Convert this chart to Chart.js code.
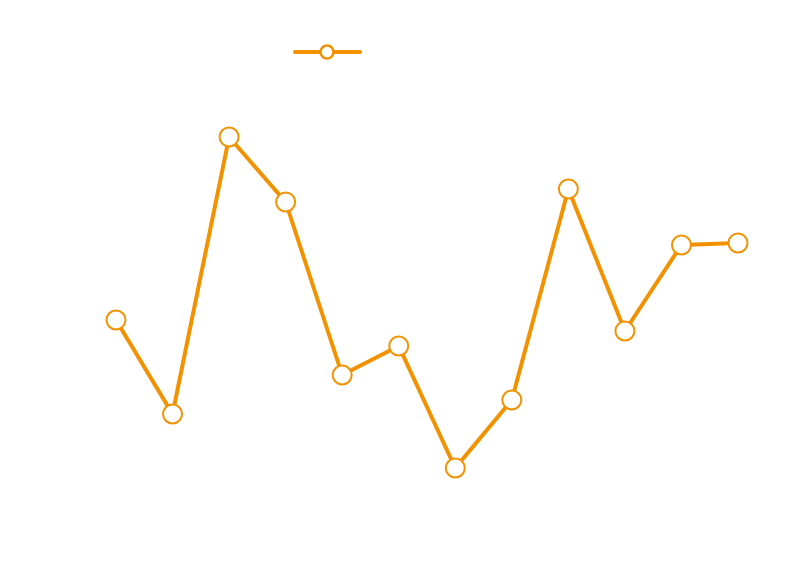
<!DOCTYPE html>
<html>
<head>
<meta charset="utf-8">
<script src="https://cdn.jsdelivr.net/npm/chart.js@4"></script>
<style>
  html, body { margin: 0; padding: 0; background: #ffffff; }
  #wrap { width: 800px; height: 566px; position: relative; }
</style>
</head>
<body>
<div id="wrap"><canvas id="c" width="800" height="566"></canvas></div>
<script>
const categories = ['1', '2', '3', '4', '5', '6', '7', '8', '9', '10', '11', '12'];
const seriesValues = [45.25, 21.75, 91, 74.75, 31.5, 38.75, 8.25, 25.25, 78, 42.5, 64, 64.5];
const seriesName = '';
const lineColor = '#F39200';

const legendIcon = {
  id: 'legendIcon',
  afterDraw(chart) {
    const ctx = chart.ctx;
    ctx.save();
    ctx.strokeStyle = lineColor;
    ctx.lineWidth = 4;
    ctx.lineCap = 'round';
    ctx.beginPath();
    ctx.moveTo(295, 52);
    ctx.lineTo(360, 52);
    ctx.stroke();
    ctx.beginPath();
    ctx.arc(327, 52, 6.5, 0, Math.PI * 2);
    ctx.fillStyle = '#ffffff';
    ctx.fill();
    ctx.lineWidth = 2.5;
    ctx.stroke();
    ctx.restore();
  }
};

new Chart(document.getElementById('c'), {
  type: 'line',
  data: {
    labels: categories,
    datasets: [{
      label: seriesName,
      data: seriesValues,
      borderColor: lineColor,
      backgroundColor: '#ffffff',
      borderWidth: 4,
      pointRadius: 9.5,
      pointBorderWidth: 2,
      pointBackgroundColor: '#ffffff',
      pointBorderColor: lineColor,
      tension: 0,
      fill: false
    }]
  },
  options: {
    responsive: false,
    animation: false,
    devicePixelRatio: 1,
    layout: { padding: { left: 116, right: 62, top: 101, bottom: 65 } },
    plugins: { legend: { display: false }, tooltip: { enabled: false } },
    scales: {
      x: { display: false, offset: false },
      y: { display: false, min: 0, max: 100 }
    }
  },
  plugins: [legendIcon]
});
</script>
</body>
</html>
